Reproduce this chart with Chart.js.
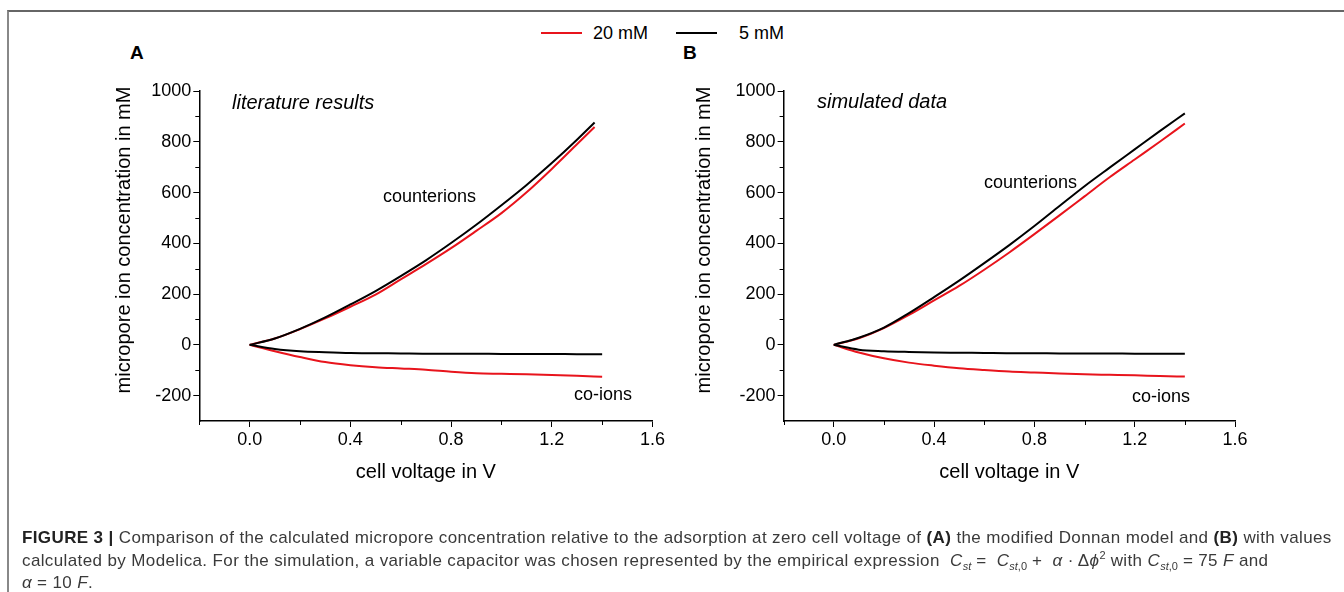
<!DOCTYPE html>
<html>
<head>
<meta charset="utf-8">
<script src="https://cdn.jsdelivr.net/npm/chart.js@4.4.1/dist/chart.umd.min.js"></script>
<style>
body{margin:0;width:1344px;height:592px;overflow:hidden;position:relative;background:#fff;font-family:"Liberation Sans",Arial,sans-serif;color:#000;}
.abs{position:absolute;white-space:nowrap;line-height:24px;}
#frame{position:absolute;left:7px;top:10px;width:1337px;height:582px;border-top:2px solid #666;border-left:2px solid #888;}
.leg{position:absolute;height:2px;top:32px;width:41px;}
.note{font-size:18px;}
.ital{font-size:20px;font-style:italic;}
.panel{font-size:19px;font-weight:bold;}
.ytitle{position:absolute;white-space:nowrap;font-size:20px;line-height:24px;width:400px;text-align:center;transform:rotate(-90deg);}
#cap{position:absolute;left:22px;top:527px;font-size:17px;letter-spacing:0.38px;line-height:22.5px;color:#3a3a3a;white-space:nowrap;}
#cap b{color:#222;}
#cap sub,#cap sup{font-size:11px;line-height:0;letter-spacing:0;}
#cap .m{margin:0 5px;}
canvas{position:absolute;top:0;}
</style>
</head>
<body>
<div id="frame"></div>

<div class="leg" style="left:541px;background:#e8141c;"></div>
<div class="abs note" style="left:593px;top:21px;">20 mM</div>
<div class="leg" style="left:676px;background:#000;"></div>
<div class="abs note" style="left:739px;top:21px;">5 mM</div>

<div class="abs panel" style="left:130px;top:41px;">A</div>
<div class="abs panel" style="left:683px;top:41px;">B</div>

<canvas id="chartA" width="672" height="592" style="left:0;"></canvas>
<canvas id="chartB" width="672" height="592" style="left:672px;"></canvas>

<div class="ytitle" style="left:-77px;top:228px;">micropore ion concentration in mM</div>
<div class="ytitle" style="left:503px;top:228px;">micropore ion concentration in mM</div>

<div class="abs ital" style="left:232px;top:90px;">literature results</div>
<div class="abs ital" style="left:817px;top:89px;">simulated data</div>
<div class="abs note" style="left:383px;top:184px;">counterions</div>
<div class="abs note" style="left:984px;top:170px;">counterions</div>
<div class="abs note" style="left:574px;top:382px;">co-ions</div>
<div class="abs note" style="left:1132px;top:384px;">co-ions</div>

<div id="cap"><b>FIGURE 3 |</b> Comparison of the calculated micropore concentration relative to the adsorption at zero cell voltage of <b>(A)</b> the modified Donnan model and <b>(B)</b> with values<br>calculated by Modelica. For the simulation, a variable capacitor was chosen represented by the empirical expression &nbsp;<i>C<sub>st</sub></i><span class="m">=</span>&nbsp;<i>C<sub>st</sub></i><sub>,0</sub><span class="m">+</span>&nbsp;<i>α</i> · Δ<i>ϕ</i><sup>2</sup> with <i>C<sub>st</sub></i><sub>,0</sub><span class="m">=</span>75 <i>F</i> and<br><i>α</i><span class="m">=</span>10 <i>F</i>.</div>

<script>
// panel A (literature results)
var voltCounterA = [0, 0.1, 0.2, 0.3, 0.4, 0.5, 0.6, 0.7, 0.8, 0.9, 1.0, 1.1, 1.2, 1.3, 1.37];
var counter5A  = [0, 25, 63, 108, 159, 212, 271, 333, 401, 473, 550, 630, 716, 808, 876];
var counter20A = [0, 25, 62, 104, 150, 198, 258, 318, 381, 449, 519, 601, 693, 790, 858];
var voltCoA = [0, 0.1, 0.2, 0.3, 0.4, 0.5, 0.6, 0.7, 0.8, 0.9, 1.0, 1.1, 1.2, 1.3, 1.4];
var co5A  = [0, -16, -25, -29, -32, -33, -34, -35, -35, -35, -36, -36, -36, -37, -37];
var co20A = [0, -25, -48, -68, -80, -88, -93, -98, -106, -112, -114, -116, -119, -122, -126];

// panel B (simulated data)
var voltB = [0, 0.1, 0.2, 0.3, 0.4, 0.5, 0.6, 0.7, 0.8, 0.9, 1.0, 1.1, 1.2, 1.3, 1.4];
var counter5B  = [0, 28, 68, 125, 188, 253, 322, 393, 468, 547, 625, 698, 770, 842, 912];
var counter20B = [0, 26, 66, 118, 175, 232, 296, 364, 436, 510, 585, 660, 730, 800, 872];
var co5B  = [0, -19, -25, -28, -30, -31, -32, -33, -33, -34, -34, -34, -35, -35, -35];
var co20B = [0, -30, -53, -70, -82, -92, -99, -105, -109, -113, -116, -118, -120, -123, -125];

// ticks
var xMajor = [0, 0.4, 0.8, 1.2, 1.6];
var xMinor = [-0.2, 0.2, 0.6, 1.0, 1.4];
var yMajor = [-200, 0, 200, 400, 600, 800, 1000];
var yMinor = [-100, 100, 300, 500, 700, 900];

var RED = '#e8141c';
Chart.defaults.font.family = '"Liberation Sans", Arial, sans-serif';
Chart.defaults.color = '#000';

function pts(xs, ys){
    return xs.map(function(x, i){ return {x: x, y: ys[i]}; });
}

function line(data, color){
    return {data: data, borderColor: color, borderWidth: 2, pointRadius: 0,
            fill: false, cubicInterpolationMode: 'monotone'};
}

// short outward minor ticks, Chart.js has none
var minorTicks = {
    id: 'minorTicks',
    afterDraw: function(chart){
        var ctx = chart.ctx, x = chart.scales.x, y = chart.scales.y;
        var bottom = chart.chartArea.bottom, left = chart.chartArea.left;
        ctx.save();
        ctx.strokeStyle = '#000';
        ctx.lineWidth = 1;
        ctx.beginPath();
        xMinor.forEach(function(v){
            var px = Math.round(x.getPixelForValue(v)) + 0.5;
            ctx.moveTo(px, bottom); ctx.lineTo(px, bottom + 4);
        });
        yMinor.forEach(function(v){
            var py = Math.round(y.getPixelForValue(v)) + 0.5;
            ctx.moveTo(left, py); ctx.lineTo(left - 4, py);
        });
        ctx.stroke();
        ctx.restore();
    }
};

function makeChart(id, sets, pad){
    return new Chart(document.getElementById(id), {
        type: 'scatter',
        data: {datasets: sets},
        options: {
            responsive: false,
            animation: false,
            showLine: true,
            layout: {padding: {left: pad.left, right: pad.right, top: 91, bottom: 108}},
            plugins: {legend: {display: false}, tooltip: {enabled: false}},
            scales: {
                x: {
                    type: 'linear', min: -0.2, max: 1.6,
                    afterBuildTicks: function(s){ s.ticks = xMajor.map(function(v){ return {value: v}; }); },
                    afterFit: function(s){ s.height = 63; },
                    ticks: {font: {size: 18}, padding: 2, maxRotation: 0,
                            callback: function(v){ return v.toFixed(1); }},
                    grid: {drawOnChartArea: false, tickLength: 6, tickColor: '#000', tickWidth: 1},
                    border: {color: '#000', width: 1.5},
                    title: {display: true, text: 'cell voltage in V', font: {size: 20}, padding: 0}
                },
                y: {
                    type: 'linear', min: -300, max: 1000,
                    afterBuildTicks: function(s){ s.ticks = yMajor.map(function(v){ return {value: v}; }); },
                    afterFit: function(s){ s.width = pad.yw; },
                    ticks: {font: {size: 18}, padding: 2,
                            callback: function(v){ return String(v); }},
                    grid: {drawOnChartArea: false, tickLength: 6, tickColor: '#000', tickWidth: 1},
                    border: {color: '#000', width: 1.5}
                }
            }
        },
        plugins: [minorTicks]
    });
}

makeChart('chartA', [
    line(pts(voltCounterA, counter5A), '#000'),
    line(pts(voltCoA, co5A), '#000'),
    line(pts(voltCounterA, counter20A), RED),
    line(pts(voltCoA, co20A), RED)
], {left: 111, yw: 88.3, right: 19.5});

makeChart('chartB', [
    line(pts(voltB, counter5B), '#000'),
    line(pts(voltB, co5B), '#000'),
    line(pts(voltB, counter20B), RED),
    line(pts(voltB, co20B), RED)
], {left: 19, yw: 92.6, right: 109});
</script>
</body>
</html>
